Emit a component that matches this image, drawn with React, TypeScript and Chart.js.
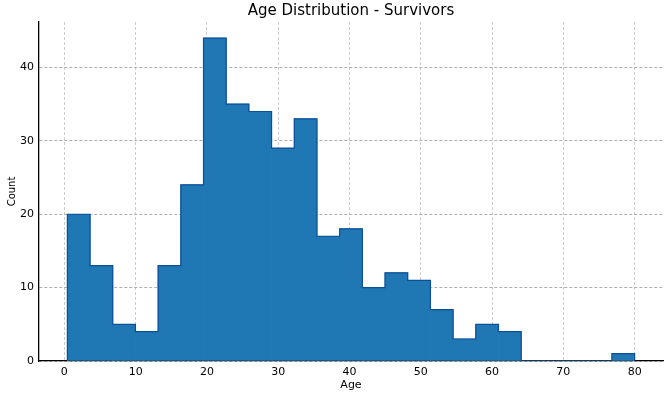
import React, { useEffect, useRef } from "react";
import { Chart, registerables } from "chart.js";

Chart.register(...registerables);

const TITLE = "Age Distribution - Survivors";
const X_LABEL = "Age";
const Y_LABEL = "Count";
const AGE_MIN = 0.42;
const AGE_MAX = 80;
const BIN_COUNT = 25;
const COUNTS = [20, 13, 5, 4, 13, 24, 44, 35, 34, 29, 33, 17, 18, 10, 12, 11, 7, 3, 5, 4, 0, 0, 0, 0, 1];
const X_TICKS = [0, 10, 20, 30, 40, 50, 60, 70, 80];
const Y_TICKS = [0, 10, 20, 30, 40];

const FONT = "'DejaVu Sans', sans-serif";

export default function App() {
  const ref = useRef<HTMLCanvasElement | null>(null);

  useEffect(() => {
    if (!ref.current) return;
    const w = (AGE_MAX - AGE_MIN) / BIN_COUNT;
    const edges = Array.from({ length: BIN_COUNT + 1 }, (_, i) => AGE_MIN + i * w);
    const bars = COUNTS.map((c, i) => ({ x: (edges[i] + edges[i + 1]) / 2, y: c }));
    const outline = [{ x: edges[0], y: 0 }, ...COUNTS.map((c, i) => ({ x: edges[i], y: c })), { x: edges[BIN_COUNT], y: COUNTS[BIN_COUNT - 1] }, { x: edges[BIN_COUNT], y: 0 }];
    const span = AGE_MAX - AGE_MIN;
    const xMin = AGE_MIN - span * 0.05;
    const xMax = AGE_MAX + span * 0.05;
    const yMax = Math.max(...COUNTS) * 1.05;

    const chart = new Chart(ref.current, {
      type: "bar",
      data: {
        datasets: [
          {
            type: "line",
            data: outline,
            stepped: "before",
            borderColor: "#0d4f99",
            borderWidth: 1.2,
            pointRadius: 0,
            fill: false,
            order: 0,
          } as any,
          {
            type: "bar",
            data: bars,
            backgroundColor: "#1f77b4",
            borderWidth: 0,
            barPercentage: 1,
            categoryPercentage: 1,
            order: 1,
          },
        ],
      },
      options: {
        animation: false,
        responsive: true,
        maintainAspectRatio: false,
        layout: { padding: { left: 0, right: 4, top: 0, bottom: 0 } },
        plugins: {
          legend: { display: false },
          tooltip: { enabled: false },
          title: {
            display: true,
            text: TITLE,
            color: "#000",
            fullSize: false,
            font: { family: FONT, size: 15, weight: "normal" },
            padding: { top: 2, bottom: 2 },
          },
        },
        scales: {
          x: {
            type: "linear",
            min: xMin,
            max: xMax,
            offset: false,
            z: 1,
            afterBuildTicks: (s: any) => {
              s.ticks = X_TICKS.map((v) => ({ value: v }));
            },
            afterFit: (s: any) => {
              s.height = 37;
            },
            ticks: {
              color: "#000",
              font: { family: FONT, size: 11 },
              padding: 5,
              maxRotation: 0,
            },
            grid: {
              offset: false,
              color: "rgba(195,195,195,0.85)",
              lineWidth: 1,
              drawTicks: false,
            },
            border: { display: true, color: "#000", width: 1.3, dash: [3, 2] },
            title: {
              display: true,
              text: X_LABEL,
              color: "#000",
              font: { family: FONT, size: 11 },
              padding: { top: 0, bottom: 6 },
            },
          },
          y: {
            type: "linear",
            min: 0,
            max: yMax,
            z: 1,
            afterBuildTicks: (s: any) => {
              s.ticks = Y_TICKS.map((v) => ({ value: v }));
            },
            afterFit: (s: any) => {
              s.width = 39;
            },
            ticks: {
              color: "#000",
              font: { family: FONT, size: 11 },
              padding: 5,
            },
            grid: {
              color: "rgba(165,165,165,0.9)",
              lineWidth: 1,
              drawTicks: false,
            },
            border: { display: true, color: "#000", width: 1.3, dash: [3, 2] },
            title: {
              display: true,
              text: Y_LABEL,
              color: "#000",
              font: { family: FONT, size: 10 },
              padding: { top: 6, bottom: 2 },
            },
          },
        },
      },
    });
    return () => chart.destroy();
  }, []);

  return (
    <div style={{ position: "fixed", left: 0, top: 0, width: 667, height: 398, background: "#fff" }}>
      <canvas ref={ref} />
    </div>
  );
}
